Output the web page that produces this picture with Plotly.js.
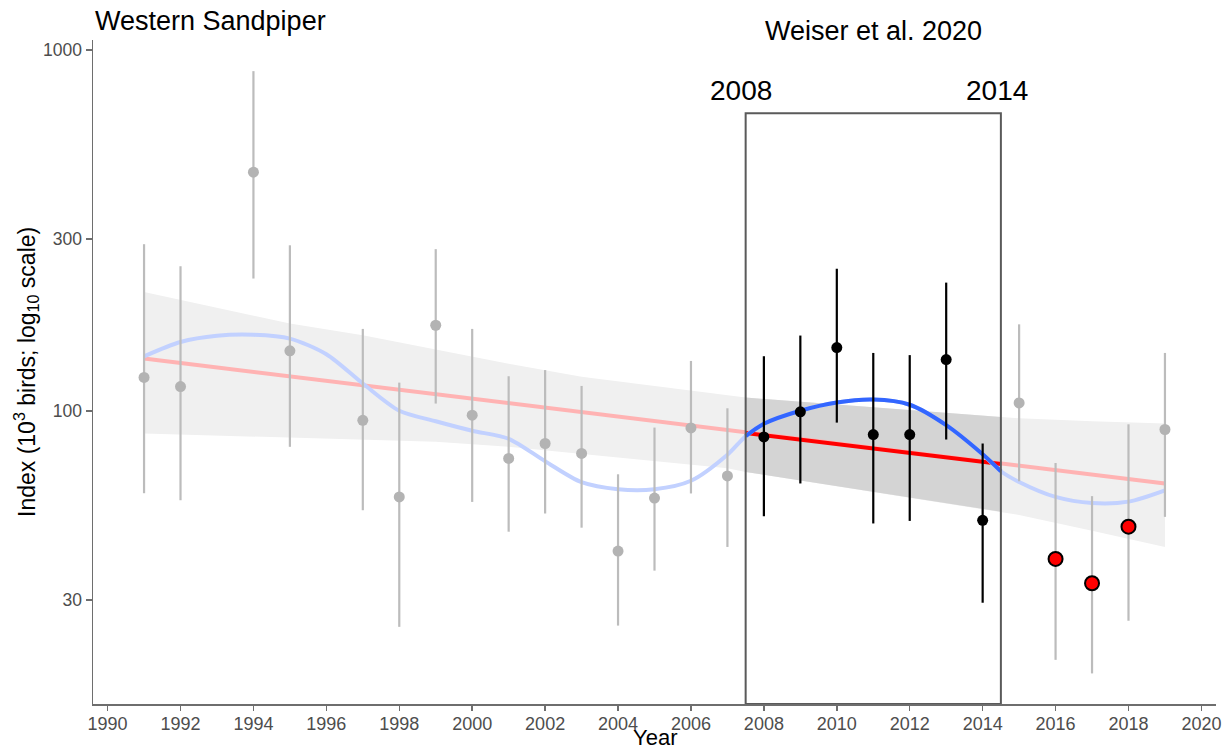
<!DOCTYPE html>
<html><head><meta charset="utf-8">
<script src="https://cdn.plot.ly/plotly-3.0.1.min.js"></script>
<style>html,body{margin:0;padding:0;background:#fff}</style>
</head><body><div id="chart" style="width:1227px;height:752px"></div>
<script>
// ---- data ----
const grayYears = [1991, 1992, 1994, 1995, 1997, 1998, 1999, 2000, 2001, 2002, 2003, 2004, 2005, 2006, 2007, 2015, 2019];
const grayIndex = [124, 117, 459, 147, 94.4, 57.9, 173, 97.5, 74.0, 81.4, 76.4, 41.0, 57.5, 89.9, 66.2, 105.4, 89];
const grayLower = [59.3, 56.7, 233, 79.7, 53.2, 25.3, 105, 56.1, 46.4, 52.1, 47.6, 25.5, 36.2, 59.2, 42.1, 64, 51];
const grayUpper = [290, 252, 874, 288, 169, 120, 281, 169, 125, 130, 117.5, 66.9, 90.1, 137.8, 101.9, 174, 145];

const weiserYears = [2008, 2009, 2010, 2011, 2012, 2013, 2014];
const weiserIndex = [84.9, 99.6, 150, 86.2, 86.2, 139, 49.9];
const weiserLower = [51.2, 63.1, 93, 48.9, 49.7, 83.5, 29.5];
const weiserUpper = [142, 162, 248, 145, 143, 227, 81.4];

const recentYears = [2016, 2017, 2018];
const recentIndex = [39.0, 33.4, 47.9];
const recentLower = [20.5, 18.8, 26.3];
const recentUpper = [71.9, 58.2, 92];

// linear trend (log scale) and its confidence band
const trendYears = [1991, 2019];
const trendVals = [139.9, 63.1];
const trendBoxYears = [2007.5, 2014.5];
const trendBoxVals = [87.1, 71.4];
const bandYears = [1991, 1993, 1995, 1997, 1999, 2001, 2003, 2005, 2007, 2007.5, 2009, 2011, 2013, 2014.5, 2015, 2017, 2019];
const bandUpper = [213.8, 193.6, 174.8, 162.3, 148.4, 135.3, 124.6, 117.3, 110.5, 109.1, 106.2, 102.6, 99.1, 96.4, 95.6, 93.8, 92.5];
const bandLower = [86.8, 85.6, 84.5, 83.4, 82.3, 79.8, 76.3, 72.9, 69.5, 67.9, 64.3, 59.8, 55.6, 52.7, 51.6, 46.7, 42.1];

// loess smooth
const loessYears = [1991, 1992, 1993, 1994, 1995, 1996, 1997, 1998, 1999, 2000, 2001, 2002, 2003, 2004, 2005, 2006, 2007, 2007.5, 2008, 2009, 2010, 2011, 2012, 2013, 2014, 2014.5, 2015, 2016, 2017, 2018, 2019];
const loessVals = [141.9, 155.5, 161.8, 162.8, 158.9, 143.8, 119.3, 100.3, 93.8, 88.3, 83.9, 72.7, 63.6, 60.8, 60.8, 64.2, 75.8, 85.3, 92.3, 100.3, 105.7, 107.7, 104.2, 91.5, 76.0, 68.2, 63.7, 57.9, 55.7, 56.2, 60.4];

const xTickVals = [1990, 1992, 1994, 1996, 1998, 2000, 2002, 2004, 2006, 2008, 2010, 2012, 2014, 2016, 2018, 2020];
const yTickVals = [30, 100, 300, 1000];
const yTickText = ['30', '100', '300', '1000'];

// ---- helpers ----
const boxStart = 2007.5, boxEnd = 2014.5;
function inBox(xs, ys) {
  const ox = [], oy = [];
  xs.forEach((x, i) => { if (x >= boxStart && x <= boxEnd) { ox.push(x); oy.push(ys[i]); } });
  return [ox, oy];
}
function errs(vals, lo, hi) {
  return { type: 'data', symmetric: false,
    array: hi.map((h, i) => h - vals[i]), arrayminus: lo.map((l, i) => vals[i] - l) };
}
const FONT = 'Liberation Sans, Arial, sans-serif';
const [bxU, byU] = inBox(bandYears, bandUpper);
const [bxL, byL] = inBox(bandYears, bandLower);
const [lxB, lyB] = inBox(loessYears, loessVals);

const traces = [
  { x: bandYears, y: bandUpper, mode: 'lines', line: { width: 0, color: 'rgba(0,0,0,0)' }, hoverinfo: 'skip', showlegend: false },
  { x: bandYears, y: bandLower, mode: 'lines', fill: 'tonexty', fillcolor: '#f0f0f0', line: { width: 0, color: 'rgba(0,0,0,0)' }, hoverinfo: 'skip', showlegend: false },
  { x: bxU, y: byU, mode: 'lines', line: { width: 0, color: 'rgba(0,0,0,0)' }, hoverinfo: 'skip', showlegend: false },
  { x: bxL, y: byL, mode: 'lines', fill: 'tonexty', fillcolor: '#d4d4d4', line: { width: 0, color: 'rgba(0,0,0,0)' }, hoverinfo: 'skip', showlegend: false },
  { x: trendYears, y: trendVals, mode: 'lines', line: { width: 4, color: '#ffb3b3' }, showlegend: false },
  { x: trendBoxYears, y: trendBoxVals, mode: 'lines', line: { width: 4, color: '#ff0000' }, showlegend: false },
  { x: loessYears, y: loessVals, mode: 'lines', line: { width: 4, color: '#c2d1ff', shape: 'spline', smoothing: 0.8 }, showlegend: false },
  { x: lxB, y: lyB, mode: 'lines', line: { width: 4, color: '#3366ff', shape: 'spline', smoothing: 0.8 }, showlegend: false },
  { x: grayYears, y: grayIndex, mode: 'markers', marker: { size: 11, color: '#b3b3b3' },
    error_y: Object.assign(errs(grayIndex, grayLower, grayUpper), { width: 0, thickness: 2.2, color: '#bcbcbc' }), showlegend: false },
  { x: recentYears, y: recentIndex, mode: 'markers', marker: { size: 14, color: '#ff0000', line: { color: '#000', width: 2 } },
    error_y: Object.assign(errs(recentIndex, recentLower, recentUpper), { width: 0, thickness: 2.2, color: '#bcbcbc' }), showlegend: false },
  { x: weiserYears, y: weiserIndex, mode: 'markers', marker: { size: 11, color: '#000' },
    error_y: Object.assign(errs(weiserIndex, weiserLower, weiserUpper), { width: 0, thickness: 2.2, color: '#000' }), showlegend: false }
];

const layout = {
  width: 1227, height: 752,
  margin: { l: 93, r: 11, t: 40, b: 48 },
  paper_bgcolor: '#fff', plot_bgcolor: '#fff',
  font: { family: FONT, color: '#000' },
  showlegend: false,
  xaxis: {
    range: [1989.6, 2020.4], tickvals: xTickVals, ticks: 'outside', ticklen: 5, tickwidth: 1.5,
    tickcolor: '#6e6e6e', showline: true, linecolor: '#6e6e6e', linewidth: 1.5, ticklabelstandoff: -2,
    showgrid: false, zeroline: false, tickfont: { size: 18, color: '#4d4d4d', family: FONT }
  },
  yaxis: {
    type: 'log', range: [1.1895, 3.0277], tickvals: yTickVals, ticktext: yTickText,
    ticks: 'outside', ticklen: 6, tickwidth: 1.5, tickcolor: '#6e6e6e',
    showline: true, linecolor: '#6e6e6e', linewidth: 1.5, showgrid: false, zeroline: false,
    tickfont: { size: 17.5, color: '#4d4d4d', family: FONT }
  },
  shapes: [{
    type: 'rect', xref: 'x', yref: 'y', x0: boxStart, x1: boxEnd, y0: 15.47, y1: 668,
    line: { color: '#5a5a5a', width: 2 }, fillcolor: 'rgba(0,0,0,0)', layer: 'above'
  }],
  annotations: [
    { text: 'Western Sandpiper', xref: 'paper', yref: 'paper', x: 0, y: 1, xanchor: 'left', yanchor: 'middle',
      yshift: 19, showarrow: false, font: { size: 27, color: '#000', family: FONT } },
    { text: 'Weiser et al. 2020', xref: 'x', yref: 'paper', x: 2011, y: 1, xanchor: 'center', yanchor: 'middle',
      yshift: 9, showarrow: false, font: { size: 27, color: '#000', family: FONT } },
    { text: '2008', xref: 'x', yref: 'paper', x: 2007.37, y: 1, xanchor: 'center', yanchor: 'middle',
      yshift: -50, showarrow: false, font: { size: 28, color: '#000', family: FONT } },
    { text: '2014', xref: 'x', yref: 'paper', x: 2014.4, y: 1, xanchor: 'center', yanchor: 'middle',
      yshift: -50, showarrow: false, font: { size: 28, color: '#000', family: FONT } },
    { text: 'Year', xref: 'paper', yref: 'paper', x: 0.5, y: 0, xanchor: 'center', yanchor: 'bottom',
      yshift: -48, showarrow: false, font: { size: 22, color: '#000', family: FONT } },
    { text: 'Index (10<sup>3</sup> birds; log<sub>10</sub> scale)', xref: 'paper', yref: 'paper', x: 0, y: 0.5,
      xanchor: 'center', yanchor: 'middle', xshift: -67, textangle: -90, showarrow: false,
      font: { size: 23, color: '#000', family: FONT } }
  ]
};

Plotly.newPlot('chart', traces, layout, { displayModeBar: false, staticPlot: true });
</script>
</body></html>
